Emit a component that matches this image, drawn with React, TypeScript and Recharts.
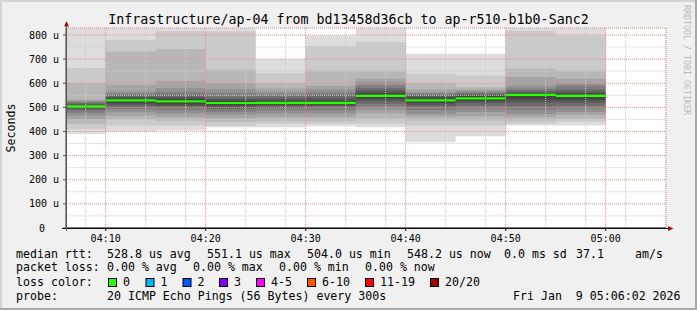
import { ComposedChart, Area, XAxis, YAxis, CartesianGrid } from "recharts";

const FONT = "'DejaVu Sans Mono', monospace";
const TOP = 900; // ping above the graph ceiling, rrdtool paints it to the edge

// 5 minute slots, median rtt (us) and the 20 sorted pings of every slot
const slots = ["04:05", "04:10", "04:15", "04:20", "04:25", "04:30", "04:35", "04:40", "04:45", "04:50", "04:55"];
const slotEnd = "05:00";
const median = [504, 529, 525, 518, 519, 519, 548, 529, 537, 552, 548];

const ping0405 = [390, 410, 432, 450, 465, 478, 488, 494, 498, 502, 506, 510, 514, 518, 522, 527, 532, 601, 663, TOP];
const ping0410 = [400, 425, 449, 465, 480, 492, 502, 510, 517, 525, 533, 538, 544, 550, 558, 566, 594, 732, 780, TOP];
const ping0415 = [404, 425, 445, 460, 475, 488, 498, 506, 512, 520, 530, 537, 543, 552, 565, 580, 610, 742, 816, TOP];
const ping0420 = [418, 425, 440, 457, 470, 482, 493, 502, 508, 515, 521, 528, 535, 545, 560, 575, 600, 656, 815, TOP];
const ping0425 = [418, 432, 445, 460, 475, 487, 497, 505, 511, 516, 522, 528, 536, 545, 555, 565, 578, 600, 642, 701];
const ping0430 = [422, 432, 445, 460, 475, 488, 498, 506, 512, 516, 522, 530, 540, 552, 562, 575, 591, 653, 753, 798];
const ping0435 = [418, 432, 453, 475, 490, 503, 515, 525, 535, 544, 552, 560, 570, 580, 591, 605, 619, 653, 771, TOP];
const ping0440 = [355, 425, 446, 462, 473, 488, 500, 510, 518, 525, 533, 540, 546, 552, 557, 563, 575, 600, 639, 722];
const ping0445 = [380, 425, 446, 463, 481, 495, 508, 518, 526, 533, 541, 548, 553, 558, 562, 568, 575, 584, 632, 722];
const ping0450 = [425, 432, 446, 460, 473, 490, 505, 520, 533, 547, 555, 558, 563, 570, 577, 590, 626, 660, 818, TOP];
const ping0455 = [425, 440, 453, 468, 481, 495, 508, 520, 532, 545, 551, 558, 565, 575, 590, 598, 619, 653, 798, TOP];
const pings = [ping0405, ping0410, ping0415, ping0420, ping0425, ping0430, ping0435, ping0440, ping0445, ping0450, ping0455];

const xLabels = ["04:10", "04:20", "04:30", "04:40", "04:50", "05:00"];
const yValues = [0, 100, 200, 300, 400, 500, 600, 700, 800];

const lossColors = [
  ["0", "#26ff00"],
  ["1", "#00b8ff"],
  ["2", "#0059ff"],
  ["3", "#7e00ff"],
  ["4-5", "#ff00ff"],
  ["6-10", "#ff5500"],
  ["11-19", "#ff0000"],
  ["20/20", "#a00000"],
];
const lossX = [108, 145.5, 182.5, 219, 256, 307, 365, 430];

const toMin = (s: string) => {
  const [h, m] = s.split(":").map(Number);
  return h * 60 + m;
};

const X0 = toMin("04:06") + 2 / 60;
const X1 = toMin("05:06") + 2 / 60;
const Y1 = 829;

const data = slots.map((s, i) => ({ t: toMin(s), median: median[i], p: pings[i] }));
data.push({ t: toMin(slotEnd), median: median[median.length - 1], p: pings[pings.length - 1] });

const majorX = xLabels.map(toMin);
const minorX: number[] = [];
for (let m = toMin("04:08"); m <= X1; m += 2) if (m % 10 !== 0) minorX.push(m);
const minorY: number[] = [];
for (let v = 50; v < Y1; v += 100) minorY.push(v);

// smokeping smoke shades, outer band lightest
const shade = (k: number) => {
  const c = Math.floor((190 / 10) * (10 - (k + 1))) + 50;
  const h = c.toString(16).padStart(2, "0");
  return `#${h}${h}${h}`;
};

const fmtTime = (m: number) =>
  `${String(Math.floor(m / 60)).padStart(2, "0")}:${String(m % 60).padStart(2, "0")}`;

const YTick = (props: any) => {
  const v = props.payload.value;
  return (
    <text x={v === 0 ? props.x - 14 : props.x} y={props.y} dy={3.6} textAnchor="end"
      fontFamily={FONT} fontSize={10} fill="#000">
      {v === 0 ? "0" : `${v} u`}
    </text>
  );
};

const XTick = (props: any) => (
  <text x={props.x} y={props.y} dy={8.5} textAnchor="middle" fontFamily={FONT} fontSize={10} fill="#000">
    {fmtTime(props.payload.value)}
  </text>
);

const T = ({ x, y, children }: { x: number; y: number; children: string }) => (
  <text x={x} y={y} fontFamily={FONT} fontSize={11.6} fill="#000" style={{ whiteSpace: "pre" }}>
    {children}
  </text>
);

export default function App() {
  return (
    <div style={{ position: "fixed", left: 0, top: 0, width: 697, height: 310, background: "#f0f0f0" }}>
      <ComposedChart width={697} height={310} data={data} margin={{ top: 28, right: 31, bottom: 62, left: 0 }}>
        <XAxis xAxisId="t" dataKey="t" type="number" domain={[X0, X1]} allowDataOverflow ticks={majorX}
          tick={XTick} tickSize={3} tickMargin={2} height={20} stroke="#111" interval={0} />
        <XAxis xAxisId="tm" dataKey="t" type="number" domain={[X0, X1]} allowDataOverflow ticks={minorX} hide />
        <YAxis yAxisId="v" type="number" domain={[0, Y1]} allowDataOverflow ticks={yValues}
          tick={YTick} tickSize={3} tickMargin={4} width={66} stroke="#555" interval={0} />
        <YAxis yAxisId="vm" type="number" domain={[0, Y1]} allowDataOverflow ticks={minorY} hide />
        <CartesianGrid xAxisId="t" yAxisId="v" horizontal={false} vertical={false} fill="#ffffff" fillOpacity={1} />
        {Array.from({ length: 10 }, (_, k) => (
          <Area key={k} xAxisId="t" yAxisId="v" type="stepAfter"
            dataKey={(d: any) => [d.p[k], d.p[19 - k]]}
            fill={shade(k)} fillOpacity={1} stroke="none" isAnimationActive={false} activeDot={false} />
        ))}
        <CartesianGrid xAxisId="tm" yAxisId="vm" stroke="#cccccc" strokeDasharray="1 1" fill="none"
          zIndex={150} />
        <CartesianGrid xAxisId="t" yAxisId="v" stroke="#e89090" strokeDasharray="1 1" fill="none"
          zIndex={160} />
        <Area xAxisId="t" yAxisId="v" type="stepAfter" dataKey={(d: any) => [d.median - 4.5, d.median + 4.5]}
          fill="#26ff00" fillOpacity={1} stroke="none" isAnimationActive={false} activeDot={false} zIndex={170} />
      </ComposedChart>
      <svg width={697} height={310} style={{ position: "absolute", left: 0, top: 0, pointerEvents: "none" }}>
        <rect x={0} y={0} width={697} height={2} fill="#d4d4d4" />
        <rect x={0} y={0} width={2} height={310} fill="#d4d4d4" />
        <rect x={695} y={0} width={2} height={310} fill="#a8a8a8" />
        <rect x={0} y={308} width={697} height={2} fill="#a8a8a8" />
        <line x1={62} y1={228.5} x2={670} y2={228.5} stroke="#111" />
        <line x1={66.5} y1={231} x2={66.5} y2={25} stroke="#555" />
        <polygon points="64,26.5 69,26.5 66.5,21" fill="#a01010" />
        <polygon points="668,226 668,231 673.5,228.5" fill="#a01010" />
        <text x={348.5} y={24} textAnchor="middle" fontFamily={FONT} fontSize={13.3} fill="#000">
          Infrastructure/ap-04 from bd13458d36cb to ap-r510-b1b0-Sanc2
        </text>
        <text transform="translate(15,128) rotate(-90)" textAnchor="middle" fontFamily={FONT} fontSize={11.6} fill="#000">
          Seconds
        </text>
        <text transform="translate(684,5) rotate(90)" fontFamily={FONT} fontSize={8.3} fill="#b8b8b8">
          RRDTOOL / TOBI OETIKER
        </text>
        <T x={16} y={257.5}>median rtt:</T>
        <T x={107} y={257.5}>528.8 us avg</T>
        <T x={207} y={257.5}>551.1 us max</T>
        <T x={307} y={257.5}>504.0 us min</T>
        <T x={407} y={257.5}>548.2 us now</T>
        <T x={504} y={257.5}>0.0 ms sd</T>
        <T x={576} y={257.5}>37.1</T>
        <T x={635} y={257.5}>am/s</T>
        <T x={16} y={271}>packet loss:</T>
        <T x={107} y={271}>0.00 % avg</T>
        <T x={193} y={271}>0.00 % max</T>
        <T x={279} y={271}>0.00 % min</T>
        <T x={365} y={271}>0.00 % now</T>
        <T x={16} y={285.5}>loss color:</T>
        {lossColors.map(([label, color], i) => (
          <g key={label}>
            <rect x={lossX[i] + 0.5} y={278.5} width={8} height={8} fill={color} stroke="#000" />
            <T x={lossX[i] + 15} y={285.5}>{label}</T>
          </g>
        ))}
        <T x={16} y={299.5}>probe:</T>
        <T x={107} y={299.5}>20 ICMP Echo Pings (56 Bytes) every 300s</T>
        <T x={513} y={299.5}>Fri Jan  9 05:06:02 2026</T>
      </svg>
    </div>
  );
}
